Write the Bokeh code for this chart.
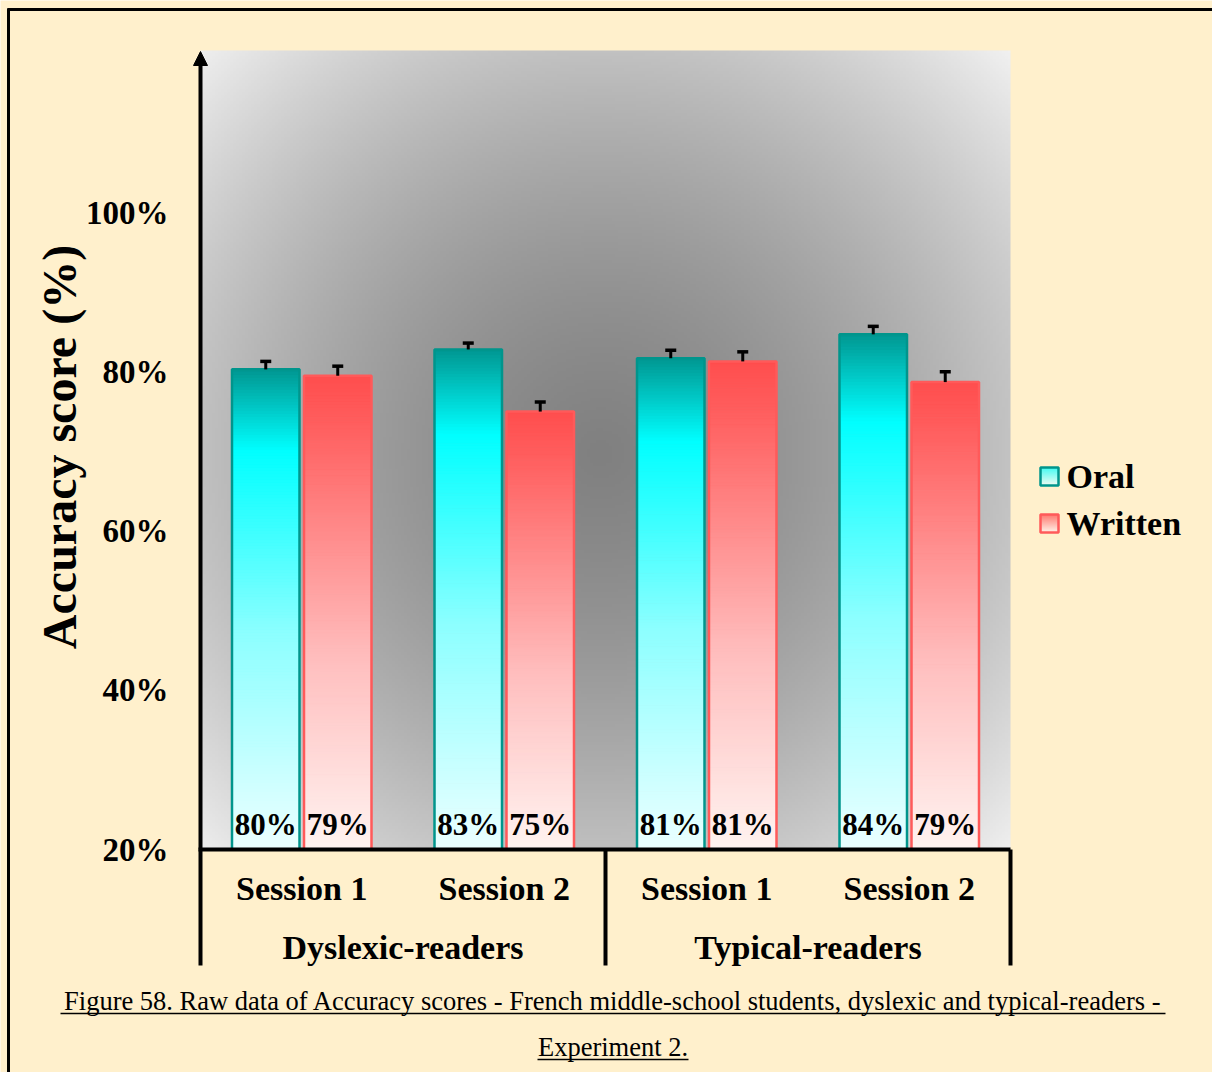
import numpy as np
from bokeh.plotting import figure
from bokeh.models import Range1d, Arrow, NormalHead
from bokeh.core.properties import value
from bokeh.embed import file_html
from bokeh.resources import INLINE

# ---------------- data ----------------
groups = ["Dyslexic-readers", "Typical-readers"]
sessions = ["Session 1", "Session 2"]
series_names = ["Oral", "Written"]
oral = [80.3, 82.8, 81.7, 84.7]
written = [79.5, 75.0, 81.3, 78.7]
oral_err = [1.0, 0.8, 1.0, 1.0]
written_err = [1.2, 1.2, 1.2, 1.3]
oral_labels = ["80%", "83%", "81%", "84%"]
written_labels = ["79%", "75%", "81%", "79%"]
y_ticks = [20, 40, 60, 80, 100]
y_tick_labels = ["20%", "40%", "60%", "80%", "100%"]
y_title = "Accuracy score (%)"
caption_lines = [
    "Figure 58. Raw data of Accuracy scores - French middle-school students, dyslexic and typical-readers -",
    "Experiment 2.",
]

# ---------------- geometry ----------------
W, H = 1212, 1072
PX0, PY0 = 0, 0          # canvas origin on the screenshot
AX_X, AX_Y = 200, 849    # px of the axis origin
SLOT = 202.5             # px per category slot
PPU = 7.9625             # px per percent
Y0 = 20.0                # axis base value


def X(px):
    return (px - AX_X) / SLOT


def Y(py):
    return Y0 + (AX_Y - py) / PPU


FONT = value("Liberation Serif")
CREAM = "#FFF0CC"

p = figure(width=W, height=H, output_backend="svg", toolbar_location=None,
           x_range=Range1d(X(PX0), X(PX0 + W)), y_range=Range1d(Y(PY0 + H), Y(PY0)),
           x_axis_location=None, y_axis_location=None, min_border=0)
p.outline_line_color = None
p.background_fill_color = CREAM
p.border_fill_color = CREAM
p.grid.visible = False

# ---------------- radial gray background ----------------
nx, ny = 270, 266
gx = np.linspace(200, 1010, nx)
gy = np.linspace(849, 50, ny)
GX, GY = np.meshgrid(gx, gy)
d = np.sqrt((GX - 600) ** 2 + (GY - 453) ** 2)
c = np.clip(128 + 0.0813 * d + 1.993e-4 * d ** 2, 0, 248).astype(np.uint8)
img = np.empty((ny, nx), dtype=np.uint32)
view = img.view(dtype=np.uint8).reshape((ny, nx, 4))
view[:, :, 0] = c
view[:, :, 1] = c
view[:, :, 2] = c
view[:, :, 3] = 255
p.image_rgba(image=[img], x=X(200), y=Y(849), dw=X(1010) - X(200), dh=Y(50) - Y(849))


# ---------------- bars with vertical gradient ----------------
def interp(stops, t):
    for (t0, c0), (t1, c1) in zip(stops[:-1], stops[1:]):
        if t0 <= t <= t1:
            f = (t - t0) / (t1 - t0) if t1 > t0 else 0
            rgb = [int(round(a + (b - a) * f)) for a, b in zip(c0, c1)]
            return "#%02x%02x%02x" % tuple(rgb)
    return "#%02x%02x%02x" % tuple(stops[-1][1])


oral_stops = [(0.0, (0, 150, 145)), (0.17, (0, 255, 255)), (0.55, (140, 255, 255)), (1.0, (235, 255, 255))]
written_stops = [(0.0, (255, 78, 78)), (0.08, (255, 90, 90)), (0.6, (255, 190, 190)), (1.0, (255, 243, 240))]

BW = 67.5 / SLOT
OFF = 36.0 / SLOT
N = 160

specs = [
    (oral, oral_err, oral_labels, -OFF, oral_stops, "#00958c"),
    (written, written_err, written_labels, OFF, written_stops, "#ff5a5a"),
]
for vals, errs, labels, off, stops, edge in specs:
    xs, bots, tops, cols = [], [], [], []
    centers = [i + 0.5 + off for i in range(len(vals))]
    for xc, v in zip(centers, vals):
        edges = np.linspace(v, Y0, N + 1)
        for k in range(N):
            xs.append(xc)
            tops.append(edges[k])
            bots.append(edges[k + 1])
            cols.append(interp(stops, (k + 0.5) / N))
    p.vbar(x=xs, top=tops, bottom=bots, width=BW, fill_color=cols, line_color=cols, line_width=1)
    p.vbar(x=centers, top=vals, bottom=Y0, width=BW, fill_alpha=0, line_color=edge, line_width=2.5)
    ends = [v + e for v, e in zip(vals, errs)]
    p.segment(x0=centers, y0=vals, x1=centers, y1=ends, line_color="black", line_width=3)
    cap = 5.5 / SLOT
    p.segment(x0=[x - cap for x in centers], y0=ends, x1=[x + cap for x in centers], y1=ends,
              line_color="black", line_width=3.5)
    p.text(x=centers, y=[Y(824)] * len(centers), text=labels, text_font=FONT, text_font_style="bold",
           text_font_size="31px", text_align="center", text_baseline="middle", text_color="black")

# ---------------- axes ----------------
p.segment(x0=[X(198)], y0=[Y0], x1=[X(1010)], y1=[Y0], line_color="black", line_width=4)
sep_x = [0, 2, 4]
p.segment(x0=sep_x, y0=[Y0] * 3, x1=sep_x, y1=[Y(965)] * 3, line_color="black", line_width=4)
p.add_layout(Arrow(end=NormalHead(size=14, fill_color="black", line_color="black"),
                   x_start=0, y_start=Y0, x_end=0, y_end=Y(51), line_width=4, line_color="black"))

p.text(x=[X(168)] * len(y_ticks), y=y_ticks, text=y_tick_labels,
       text_font=FONT, text_font_style="bold", text_font_size="33px",
       text_align="right", text_baseline="middle", text_color="black")

p.text(x=[X(59)], y=[Y(446.5)], text=[y_title], angle=np.pi / 2, text_font=FONT,
       text_font_style="bold", text_font_size="48px", text_align="center",
       text_baseline="middle", text_color="black")

sess_text = [s for g in groups for s in sessions]
p.text(x=[i + 0.5 for i in range(len(sess_text))], y=[Y(888)] * len(sess_text), text=sess_text,
       text_font=FONT, text_font_style="bold", text_font_size="34px",
       text_align="center", text_baseline="middle", text_color="black")
p.text(x=[2 * g + 1 for g in range(len(groups))], y=[Y(947)] * len(groups), text=groups,
       text_font=FONT, text_font_style="bold", text_font_size="34px",
       text_align="center", text_baseline="middle", text_color="black")

# ---------------- legend ----------------
leg_y = [476, 523]
half = 9
for (name, stops, edge), cy in zip([(series_names[0], oral_stops[1:], "#00958c"),
                                    (series_names[1], written_stops, "#ff5a5a")], leg_y):
    m = 18
    ys = np.linspace(cy - half, cy + half, m + 1)
    p.quad(left=[X(1049 - half)] * m, right=[X(1049 + half)] * m,
           top=[Y(v) for v in ys[:-1]], bottom=[Y(v) for v in ys[1:]],
           fill_color=[interp([(0, stops[0][1]), (1, stops[-1][1])], (k + 0.5) / m) for k in range(m)],
           line_color=None)
    p.quad(left=[X(1049 - half)], right=[X(1049 + half)], top=[Y(cy - half)], bottom=[Y(cy + half)],
           fill_alpha=0, line_color=edge, line_width=2.5)
    p.text(x=[X(1066)], y=[Y(cy)], text=[name], text_font=FONT, text_font_style="bold",
           text_font_size="34px", text_align="left", text_baseline="middle", text_color="black")

# ---------------- caption ----------------
cap_y = [1000, 1046]
cap_w = [1105, 151]
p.text(x=[X(612.5)] * 2, y=[Y(v) for v in cap_y], text=caption_lines, text_font=FONT,
       text_font_size="26.5px", text_align="center", text_baseline="middle", text_color="black")
p.segment(x0=[X(612.5 - w / 2) for w in cap_w], y0=[Y(v + 13) for v in cap_y],
          x1=[X(612.5 + w / 2) for w in cap_w], y1=[Y(v + 13) for v in cap_y],
          line_color="black", line_width=1.5)

# ---------------- outer frame (top / left) ----------------
p.segment(x0=[X(7), X(8)], y0=[Y(9), Y(8)], x1=[X(1212), X(8)], y1=[Y(9), Y(1072)],
          line_color="black", line_width=3)

open("out.html", "w").write(file_html(p, INLINE))
